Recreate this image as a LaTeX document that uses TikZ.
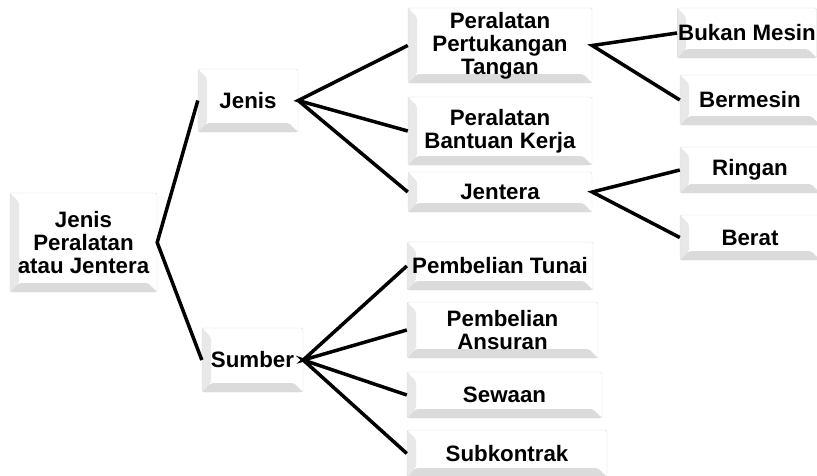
\documentclass[tikz,border=0pt]{standalone}
\usepackage{fontspec}
\setmainfont{Liberation Sans}

\tikzset{
  box/.style={rounded corners=2pt, draw=gray!30, fill=white, inner sep=1pt,
    align=center, font=\bfseries\fontsize{22.3}{23}\selectfont,
    path picture={
      \fill[gray!18] (path picture bounding box.north west) -- ++(9pt,-9pt)
        -- ([xshift=9pt,yshift=9pt]path picture bounding box.south west)
        -- (path picture bounding box.south west) -- cycle;
      \fill[gray!28] (path picture bounding box.south west)
        -- ([xshift=9pt,yshift=9pt]path picture bounding box.south west)
        -- ([xshift=-9pt,yshift=9pt]path picture bounding box.south east)
        -- (path picture bounding box.south east) -- cycle;
    }},
  link/.style={line width=3.5pt, black}
}

\begin{document}
\begin{tikzpicture}[x=1pt, y=-1pt]

  \useasboundingbox (0,0) rectangle (817,475);

  % root
  \node[box, minimum width=147pt, minimum height=99pt] (root) at (83.5,242.5) {Jenis\\Peralatan\\atau Jentera};

  % second level
  \node[box, minimum width=100pt, minimum height=63pt] (jenis) at (248,100.5) {Jenis};
  \node[box, minimum width=101pt, minimum height=64pt] (sumber) at (252.5,360) {Sumber};

  % jenis branch
  \node[box, minimum width=184pt, minimum height=75pt] (pertukangan) at (500,45.5) {Peralatan\\Pertukangan\\Tangan};
  \node[box, minimum width=184pt, minimum height=68pt] (bantuan) at (500,131) {Peralatan\\Bantuan Kerja};
  \node[box, minimum width=184pt, minimum height=40pt] (jentera) at (500,192) {Jentera};

  \node[box, minimum width=136pt, minimum height=50pt] (bukanmesin) at (747,33) {Bukan Mesin};
  \node[box, minimum width=140pt, minimum height=50pt] (bermesin) at (750,100) {Bermesin};
  \node[box, minimum width=140pt, minimum height=46pt] (ringan) at (750,170) {Ringan};
  \node[box, minimum width=140pt, minimum height=45pt] (berat) at (750,237.5) {Berat};

  % sumber branch
  \node[box, minimum width=186pt, minimum height=48pt] (tunai) at (500,266) {Pembelian Tunai};
  \node[box, minimum width=191pt, minimum height=56pt] (ansuran) at (502.5,330) {Pembelian\\Ansuran};
  \node[box, minimum width=195pt, minimum height=46pt] (sewaan) at (504.5,395) {Sewaan};
  \node[box, minimum width=200pt, minimum height=47pt] (subkontrak) at (507,453.5) {Subkontrak};

  % connectors
  \draw[link] (jenis.west) -- (root.east) -- (sumber.west);
  \draw[link] (pertukangan.west) -- (jenis.east) -- (bantuan.west);
  \draw[link] (jenis.east) -- (jentera.west);
  \draw[link] (bukanmesin.west) -- (pertukangan.east) -- (bermesin.west);
  \draw[link] (ringan.west) -- (jentera.east) -- (berat.west);
  \draw[link] (tunai.west) -- (sumber.east) -- (ansuran.west);
  \draw[link] (sewaan.west) -- (sumber.east) -- (subkontrak.west);

\end{tikzpicture}
\end{document}
